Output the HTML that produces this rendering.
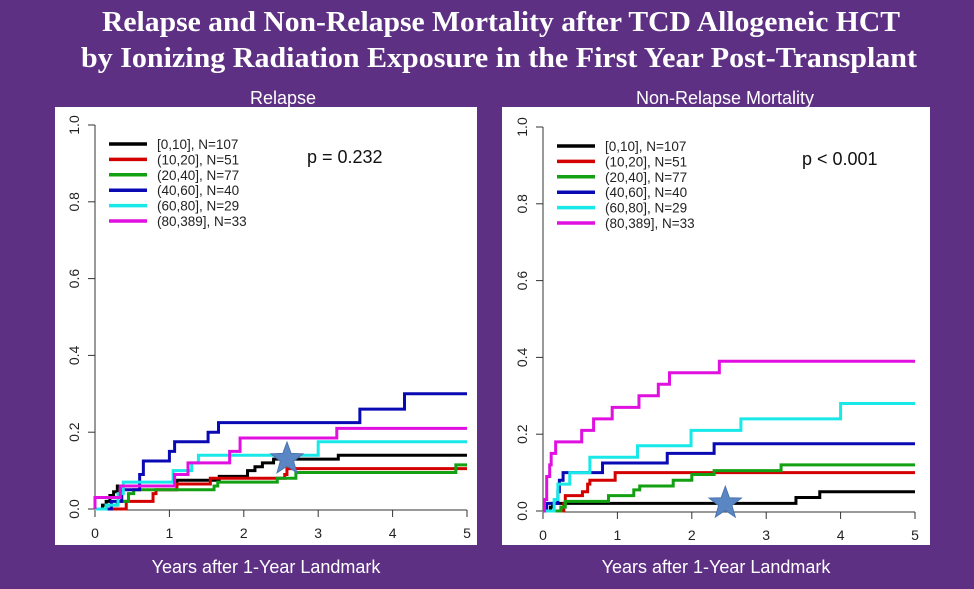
<!DOCTYPE html>
<html><head><meta charset="utf-8">
<style>
html,body{margin:0;padding:0;background:#5e3083;width:974px;height:589px;overflow:hidden}
svg{display:block}
</style></head>
<body>
<svg id="chart" width="974" height="589" xmlns="http://www.w3.org/2000/svg">
<rect width="974" height="589" fill="#5e3083"/>
<text x="501" y="31" text-anchor="middle" fill="#fff" font-family="Liberation Serif, serif" font-weight="bold" font-size="28" textLength="798" lengthAdjust="spacingAndGlyphs">Relapse and Non-Relapse Mortality after TCD Allogeneic HCT</text>
<text x="499" y="67" text-anchor="middle" fill="#fff" font-family="Liberation Serif, serif" font-weight="bold" font-size="28" textLength="836" lengthAdjust="spacingAndGlyphs">by Ionizing Radiation Exposure in the First Year Post-Transplant</text>
<g id="panels"></g>
</svg>
<script>
const SVGNS="http://www.w3.org/2000/svg";
const seriesLabels=["[0,10], N=107","(10,20], N=51","(20,40], N=77","(40,60], N=40","(60,80], N=29","(80,389], N=33"];
const seriesColors=["#000000","#d40000","#13a013","#0a0ab4","#18e8e8","#e010e0"];
const xTicks=[0,1,2,3,4,5];
const yTicks=[0.0,0.2,0.4,0.6,0.8,1.0];
// Relapse step data: times and cumulative incidence values
const relT0=[0.1,0.15,0.2,0.25,0.3,1.1,1.67,2.05,2.15,2.25,2.4,3.27];
const relY0=[0.01,0.02,0.035,0.045,0.06,0.075,0.085,0.1,0.11,0.12,0.13,0.14];
const relT1=[0.42,0.78,0.82,1.1,1.55,2.55,2.58];
const relY1=[0.02,0.04,0.05,0.065,0.08,0.09,0.105];
const relT2=[0.15,0.3,0.45,0.52,1.6,1.65,2.45,2.7,4.85];
const relY2=[0.01,0.02,0.04,0.05,0.06,0.07,0.08,0.095,0.115];
const relT3=[0.22,0.36,0.6,0.65,1.0,1.07,1.52,1.66,3.56,4.16];
const relY3=[0.02,0.05,0.09,0.125,0.15,0.175,0.2,0.225,0.26,0.30];
const relT4=[0.15,0.31,0.38,1.05,1.3,1.39,3.0];
const relY4=[0.01,0.04,0.07,0.10,0.12,0.14,0.175];
const relT5=[0.0,0.34,1.07,1.25,1.81,1.95,3.25];
const relY5=[0.03,0.06,0.09,0.12,0.15,0.185,0.21];
// Non-relapse mortality step data
const nrmT0=[0.1,0.13,3.4,3.72];
const nrmY0=[0.01,0.02,0.035,0.05];
const nrmT1=[0.28,0.3,0.53,0.6,0.63,0.97];
const nrmY1=[0.02,0.04,0.05,0.07,0.08,0.10];
const nrmT2=[0.24,0.3,0.88,1.22,1.3,1.75,2.0,2.3,3.2];
const nrmY2=[0.01,0.025,0.04,0.055,0.065,0.08,0.095,0.105,0.12];
const nrmT3=[0.05,0.2,0.22,0.27,0.8,1.67,2.3];
const nrmY3=[0.02,0.05,0.08,0.10,0.125,0.15,0.175];
const nrmT4=[0.15,0.2,0.36,0.63,1.27,1.99,2.66,4.0];
const nrmY4=[0.03,0.07,0.10,0.14,0.17,0.21,0.24,0.28];
const nrmT5=[0.02,0.05,0.09,0.11,0.17,0.52,0.68,0.93,1.29,1.55,1.7,2.37];
const nrmY5=[0.03,0.09,0.12,0.15,0.18,0.21,0.24,0.27,0.30,0.33,0.36,0.39];
const relStar=[2.58,0.13];
const nrmStar=[2.45,0.02];

const panels=[
 {name:"relapse",title:"Relapse",tx:283,box:[55,107,422,438],x0:95,x1:467,y0:509,y1:125,p:"p = 0.232",px:307,
  T:[relT0,relT1,relT2,relT3,relT4,relT5],Y:[relY0,relY1,relY2,relY3,relY4,relY5],star:relStar},
 {name:"nrm",title:"Non-Relapse Mortality",tx:725,box:[502,107,428,438],x0:543,x1:915,y0:511,y1:127,p:"p < 0.001",px:802,
  T:[nrmT0,nrmT1,nrmT2,nrmT3,nrmT4,nrmT5],Y:[nrmY0,nrmY1,nrmY2,nrmY3,nrmY4,nrmY5],star:nrmStar}
];
function el(tag,attrs,parent){const e=document.createElementNS(SVGNS,tag);for(const k in attrs)e.setAttribute(k,attrs[k]);parent.appendChild(e);return e;}
const root=document.getElementById('panels');
panels.forEach(P=>{
  const g=el('g',{},root);
  
  
  const xs=t=>P.x0+(P.x1-P.x0)*t/5;
  const ys=v=>P.y0+(P.y1-P.y0)*v;
  const t=el('text',{x:P.tx,y:104,'text-anchor':'middle',fill:'#fff','font-family':'Liberation Sans, sans-serif','font-size':'18'},g);
  t.textContent=P.title;
  
  
  const b=el('rect',{x:P.box[0],y:P.box[1],width:P.box[2],height:P.box[3],fill:'#fff'},g);
  
  
  const ax=el('line',{x1:xs(0),x2:xs(5),y1:P.y0+1,y2:P.y0+1,stroke:'#333','stroke-width':1},g);
  
  
  const ay=el('line',{x1:P.x0,x2:P.x0,y1:ys(0),y2:ys(1),stroke:'#333','stroke-width':1},g);
  
  
  xTicks.forEach(v=>{
    el('line',{x1:xs(v),x2:xs(v),y1:P.y0+1,y2:P.y0+8,stroke:'#333'},g);
    const tt=el('text',{x:xs(v),y:P.y0+29,'text-anchor':'middle','font-family':'Liberation Sans, sans-serif','font-size':'14',fill:'#222'},g);
    tt.textContent=String(v);
    
    
  });
  yTicks.forEach(v=>{
    el('line',{x1:P.x0-7,x2:P.x0,y1:ys(v),y2:ys(v),stroke:'#333'},g);
    const tx=P.x0-21, ty=ys(v);
    const tt=el('text',{x:tx,y:ty,'text-anchor':'middle','font-family':'Liberation Sans, sans-serif','font-size':'14',fill:'#222',transform:`rotate(-90 ${tx} ${ty})`,dy:'5'},g);
    tt.textContent=v.toFixed(1);
    
    
  });
  P.T.forEach((T,i)=>{
    let d=`M${xs(0)},${ys(0)}`;
    T.forEach((tv,j)=>{d+=` H${xs(tv)} V${ys(P.Y[i][j])}`;});
    d+=` H${xs(5)}`;
    const p=el('path',{d:d,fill:'none',stroke:seriesColors[i],'stroke-width':3},g);
    
    
  });
  seriesLabels.forEach((lab,i)=>{
    const ly=P.y1+19+i*15.4;
    const ll=el('line',{x1:P.x0+14,x2:P.x0+52,y1:ly,y2:ly,stroke:seriesColors[i],'stroke-width':3.5},g);
    
    
    const lt=el('text',{x:P.x0+62,y:ly+5,'font-family':'Liberation Sans, sans-serif','font-size':'13.5',fill:'#222'},g);
    lt.textContent=lab;
    
    
  });
  const pv=el('text',{x:P.px,y:P.y1+38,'font-family':'Liberation Sans, sans-serif','font-size':'18',fill:'#111'},g);
  pv.textContent=P.p;
  
  
  const cx=xs(P.star[0]),cy=ys(P.star[1]);let pts=[];
  for(let k=0;k<10;k++){const r=k%2?7:17;const a=-Math.PI/2+k*Math.PI/5;pts.push((cx+r*Math.cos(a)).toFixed(1)+','+(cy+r*Math.sin(a)).toFixed(1));}
  const st=el('polygon',{points:pts.join(' '),fill:'#5b86c4',stroke:'#4a74b0','stroke-width':1},g);
  
  
  const xl=el('text',{x:P.box[0]+P.box[2]/2,y:573,'text-anchor':'middle',fill:'#fff','font-family':'Liberation Sans, sans-serif','font-size':'18'},g);
  xl.textContent='Years after 1-Year Landmark';
  
  
});
</script>
</body></html>
